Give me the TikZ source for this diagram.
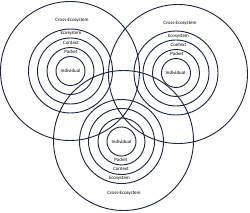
\documentclass[tikz,border=0pt]{standalone}
\usepackage{fontspec}
\setmainfont{Carlito}
\definecolor{ringblue}{HTML}{1C2640}
\tikzset{
  ring/.style={draw=ringblue, line width=1.3pt},
  lbl/.style={font=\fontsize{7}{8}\selectfont, text=black, inner sep=0pt}
}
\begin{document}
\begin{tikzpicture}[x=0.05cm, y=-0.05cm]
\useasboundingbox (0,0) rectangle (250,212);
% left set
\draw[ring] (70,71) circle (69.5);
\draw[ring] (70.5,71) circle (42);
\draw[ring] (70.5,71) circle (33);
\draw[ring] (70.5,71) circle (23.5);
\draw[ring] (70.5,71) circle (14.5);
\node[lbl] (crossA) at (72,20) {Cross-Ecosystem};
\node[lbl] (ecoA) at (71,33.5) {Ecosystem};
\node[lbl] (ctxA) at (71,42.5) {Context};
\node[lbl] (pktA) at (71,51.5) {Packet};
\node[lbl] (indA) at (70.5,70.5) {Individual};
% right set
\draw[ring] (178,74) circle (69.5);
\draw[ring] (176,73) circle (42);
\draw[ring] (176,73) circle (33);
\draw[ring] (176,73) circle (23.5);
\draw[ring] (176,73) circle (14.5);
\node[lbl] (crossB) at (180,23) {Cross-Ecosystem};
\node[lbl] (ecoB) at (178.5,36) {Ecosystem};
\node[lbl] (ctxB) at (178.5,45) {Context};
\node[lbl] (pktB) at (177,54) {Packet};
\node[lbl] (indB) at (175.5,73) {Individual};
% bottom set
\draw[ring] (123.5,140.5) circle (70);
\draw[ring] (121.5,141.5) circle (42);
\draw[ring] (121.5,141.5) circle (33);
\draw[ring] (121.5,141.5) circle (23.5);
\draw[ring] (121.5,141.5) circle (14.5);
\node[lbl] (crossC) at (124,193) {Cross-Ecosystem};
\node[lbl] (pktC) at (121,160) {Packet};
\node[lbl] (ctxC) at (121,169) {Context};
\node[lbl] (ecoC) at (119.5,178) {Ecosystem};
\node[lbl] (indC) at (121.5,141.5) {Individual};
\end{tikzpicture}
\end{document}
